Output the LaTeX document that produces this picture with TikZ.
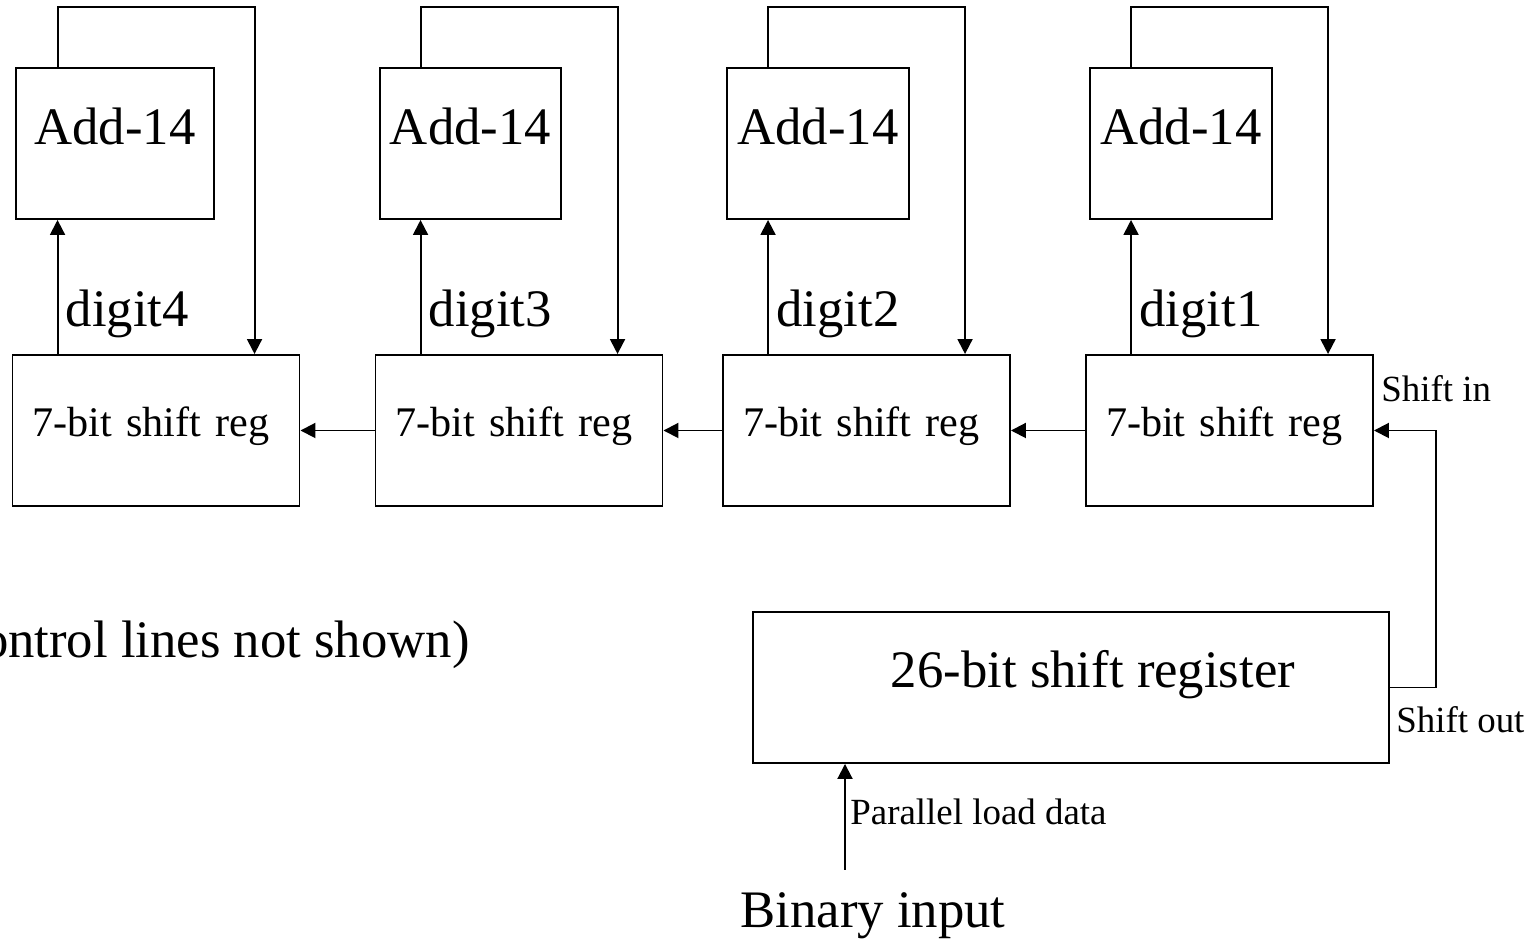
\documentclass[tikz,border=0pt]{standalone}
\usepackage{fontspec}
\setmainfont{Liberation Serif}
\usetikzlibrary{arrows.meta}

\tikzset{
  addbox/.style={draw, line width=1.1pt, inner sep=0pt, minimum height=3.02cm,
    text height=1.54cm, text depth=1.48cm, font=\fontsize{30}{36}\selectfont},
  regbox/.style={draw, line width=1.1pt, inner ysep=0pt, inner xsep=0.4cm,
    minimum width=5.74cm, minimum height=3.02cm, text width=4.94cm, align=left,
    text height=1.64cm, text depth=1.38cm, font=\fontsize{24}{29}\selectfont},
  bigtext/.style={inner sep=0pt, font=\fontsize{30}{36}\selectfont},
  smalltext/.style={inner sep=0pt, font=\fontsize{21}{25}\selectfont},
  wire/.style={line width=1.1pt, -{Triangle[length=0.3cm,width=0.3cm]}}
}

\begin{document}
\begin{tikzpicture}
\useasboundingbox (0,0) rectangle (30.68,18.82);

% four digit stages
\foreach \i/\ax/\aw/\rx/\d in {1/2.30/3.96/3.12/4, 2/9.41/3.62/10.38/3,
                                3/16.36/3.64/17.33/2, 4/23.62/3.64/24.59/1}{
  \node[addbox, minimum width=\aw cm] (add\i) at (\ax,15.95) {Add-14};
  \node[regbox] (reg\i) at (\rx,10.21) {7-bit shift reg};
  \coordinate (up\i) at ([xshift=0.92cm]reg\i.north west);
  \coordinate (dn\i) at ([xshift=4.86cm]reg\i.north west);
  \draw[wire] (up\i) -- (up\i |- add\i.south);
  \draw[wire] (up\i |- add\i.north) -- ++(0,1.2) -| (dn\i);
  \node[bigtext, anchor=base west] (digit\d) at ([xshift=1.08cm,yshift=0.56cm]reg\i.north west) {digit\d};
}
\foreach \i/\j in {2/1,3/2,4/3}
  \draw[wire] (reg\i.west) -- (reg\j.east);

% input register
\node[draw, line width=1.1pt, inner sep=0pt, minimum width=12.72cm, minimum height=3.02cm,
  text height=1.52cm, text depth=1.5cm, font=\fontsize{30}{36}\selectfont]
  (long) at (21.42,5.07) {\hspace*{0.88cm}26-bit shift register};
\draw[wire] (long.east) -- ++(0.92,0) |- (reg4.east);
\node[smalltext, anchor=base west] (shin) at ([xshift=0.14cm,yshift=-0.94cm]reg4.north east) {Shift in};
\node[smalltext, anchor=base west] (shout) at ([xshift=0.12cm,yshift=-0.91cm]long.east) {Shift out};

\coordinate (bin) at (16.9,1.42);
\draw[wire] (bin) -- (bin |- long.south);
\node[smalltext, anchor=base west] (pload) at (17.0,2.32) {Parallel load data};
\node[bigtext, anchor=base] (binary) at (17.46,0.26) {Binary input};

\node[bigtext, anchor=base east] (note) at (9.4,5.66) {(control lines not shown)};
\end{tikzpicture}
\end{document}
